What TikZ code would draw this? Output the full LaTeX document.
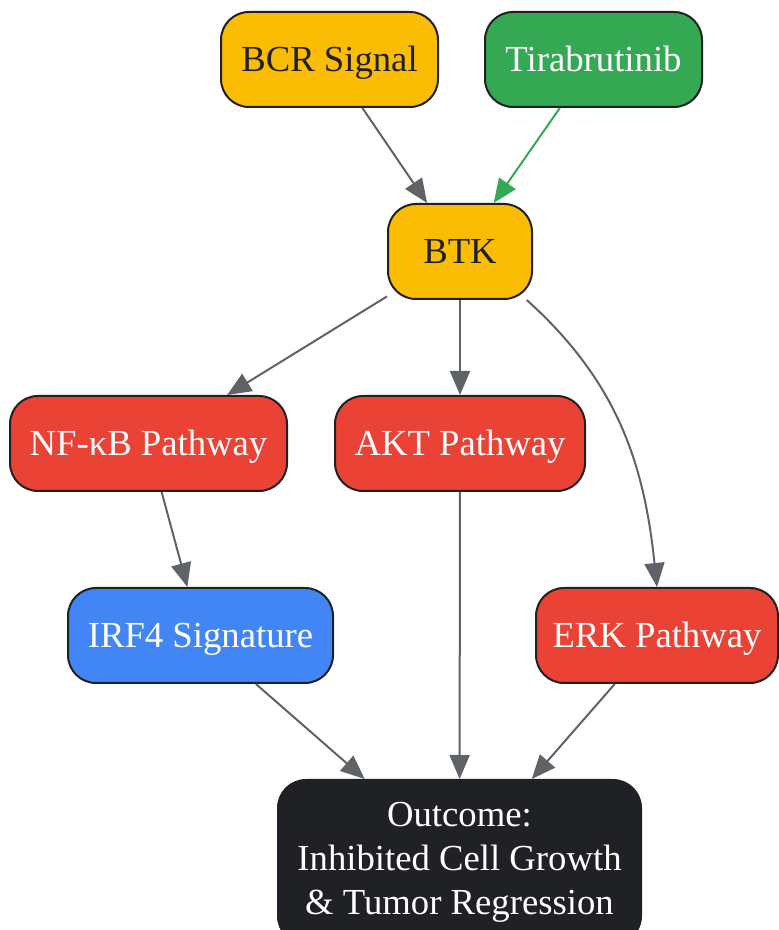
\documentclass[tikz,border=0pt]{standalone}
\usepackage{fontspec}
\setmainfont{Liberation Serif}
\usetikzlibrary{arrows.meta}
\definecolor{gyellow}{HTML}{FBBC04}
\definecolor{ggreen}{HTML}{34A853}
\definecolor{gred}{HTML}{EA4335}
\definecolor{gblue}{HTML}{4285F4}
\definecolor{gdark}{HTML}{202124}
\definecolor{ggray}{HTML}{5F6368}

\begin{document}
\begin{tikzpicture}[x=1pt,y=1pt,
  box/.style={draw=gdark,line width=2pt,rounded corners=28pt,minimum height=95pt,
    inner sep=0pt,align=center,text=white,font=\fontsize{36.7}{44}\selectfont},
  one line/.style={text height=25pt,text depth=0pt},
  link/.style={draw=ggray,line width=2pt,-{Triangle[length=24pt,width=20pt]}}
]
  \useasboundingbox (0,0) rectangle (779,930);
  \draw (329.5,870.5) node[box,one line,fill=gyellow,text=gdark,minimum width=217pt] (bcr) {BCR Signal}
        (593.5,870.5) node[box,one line,fill=ggreen,minimum width=217pt] (tira) {Tirabrutinib}
        (460,678.5) node[box,one line,fill=gyellow,text=gdark,minimum width=144pt] (btk) {BTK}
        (148.5,486.5) node[box,one line,fill=gred,minimum width=277pt] (nfkb) {NF-κB Pathway}
        (460,486.5) node[box,one line,fill=gred,minimum width=250pt] (akt) {AKT Pathway}
        (200.5,294.5) node[box,one line,fill=gblue,minimum width=265pt] (irf) {IRF4 Signature}
        (657,294.5) node[box,one line,fill=gred,minimum width=242pt] (erk) {ERK Pathway}
        (459.5,68) node[box,fill=gdark,minimum width=363pt,minimum height=164pt] (out)
          {Outcome:\\Inhibited Cell Growth\\\& Tumor Regression};
  \draw[link] (bcr) -- (btk);
  \draw[link,draw=ggreen] (tira) -- (btk);
  \draw[link] (btk) -- (nfkb);
  \draw[link] (btk) -- (akt);
  \draw[link] (btk.-36) to[out=-42,in=96] (erk.north);
  \draw[link] (nfkb) -- (irf);
  \draw[link] (akt) -- (out);
  \draw[link] (irf) -- (out);
  \draw[link] (erk) -- (out);
\end{tikzpicture}
\end{document}
